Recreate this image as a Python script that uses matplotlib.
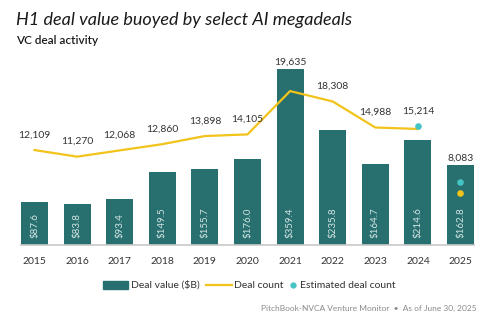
import matplotlib.pyplot as plt

# data
years = ["2015", "2016", "2017", "2018", "2019", "2020",
         "2021", "2022", "2023", "2024", "2025"]
deal_value = [87.6, 83.8, 93.4, 149.5, 155.7, 176.0, 359.4, 235.8, 164.7, 214.6, 162.8]
deal_count = [12109, 11270, 12068, 12860, 13898, 14105, 19635, 18308, 14988, 14800, 6670]
est_years = [9, 10]
est_count = [15214, 8083]
count_labels = [12109, 11270, 12068, 12860, 13898, 14105, 19635, 18308, 14988, 15214, 8083]

teal = "#27706f"
gold = "#f2c31a"
cyan = "#45c4c6"
text_col = "#333333"

plt.rcParams['font.family'] = ['Lato', 'DejaVu Sans']

fig = plt.figure(figsize=(4.9, 3.23), dpi=100)
W, H = 490, 323
ax = fig.add_axes([21 / W, (H - 245) / H, 453 / W, 185 / H])
ax2 = ax.twinx()

x = list(range(len(years)))
ax.bar(x, deal_value, width=0.634, color=teal, zorder=2)
ax.set_xlim(-0.317, len(years) - 1 + 0.317)
vmax = 378
cmax = 23597
ax.set_ylim(0, vmax)
ax2.set_ylim(0, cmax)

ax2.plot(x[:10], deal_count[:10], color=gold, lw=1.6, zorder=3)
ax2.scatter([10], [deal_count[10]], color=gold, s=14, zorder=4)
ax2.scatter(est_years, est_count, color=cyan, s=14, zorder=4)

# bar value labels, rotated inside the bars
for i, v in enumerate(deal_value):
    ax.text(i, 7 * vmax / 185, f"${v:.1f}", rotation=90, ha="center", va="bottom",
            color="#d6e6e5", fontsize=7)

# deal count labels above line / bar
px_c = cmax / 185
for i, lab in enumerate(count_labels):
    line_y = lab + 15 * px_c
    bar_y = deal_value[i] * cmax / vmax + 7 * px_c
    ax2.text(i, max(line_y, bar_y), f"{lab:,}", ha="center", va="center",
             color=text_col, fontsize=7.5)

for a in (ax, ax2):
    for s in ("top", "right", "left"):
        a.spines[s].set_visible(False)
    a.set_yticks([])
ax2.spines["bottom"].set_visible(False)
ax.spines["bottom"].set_color("#c8c8c8")
ax.spines["bottom"].set_linewidth(1.2)
ax.set_xticks(x)
ax.set_xticklabels(years, fontsize=7.5, color=text_col)
ax.tick_params(axis="x", length=0, pad=9)

fig.text(16 / W, 1 - 20 / H, "H1 deal value buoyed by select AI megadeals",
         fontsize=13, style="italic", color="#1a1a1a", va="center")
fig.text(16 / W, 1 - 40 / H, "VC deal activity", fontsize=8.5, weight="semibold",
         color="#1a1a1a", va="center")

# legend drawn by hand to match spacing
ly = 1 - 285 / H
fig.patches.append(plt.Rectangle((103 / W, ly - 4 / H), 25 / W, 8 / H,
                                 transform=fig.transFigure, color=teal))
fig.text(131 / W, ly, "Deal value ($B)", fontsize=7.5, color=text_col, va="center")
fig.lines.append(plt.Line2D([206 / W, 232 / W], [ly, ly], transform=fig.transFigure,
                            color=gold, lw=1.6))
fig.text(234 / W, ly, "Deal count", fontsize=7.5, color=text_col, va="center")
fig.lines.append(plt.Line2D([293 / W], [ly], transform=fig.transFigure, marker="o",
                            ms=3.5, color=cyan, lw=0))
fig.text(300 / W, ly, "Estimated deal count", fontsize=7.5, color=text_col, va="center")

fig.text(477 / W, 1 - 308 / H, "PitchBook-NVCA Venture Monitor  \u2022  As of June 30, 2025",
         fontsize=6, color="#8a8a8a", ha="right", va="center")

fig.savefig("out.png", dpi=100)
